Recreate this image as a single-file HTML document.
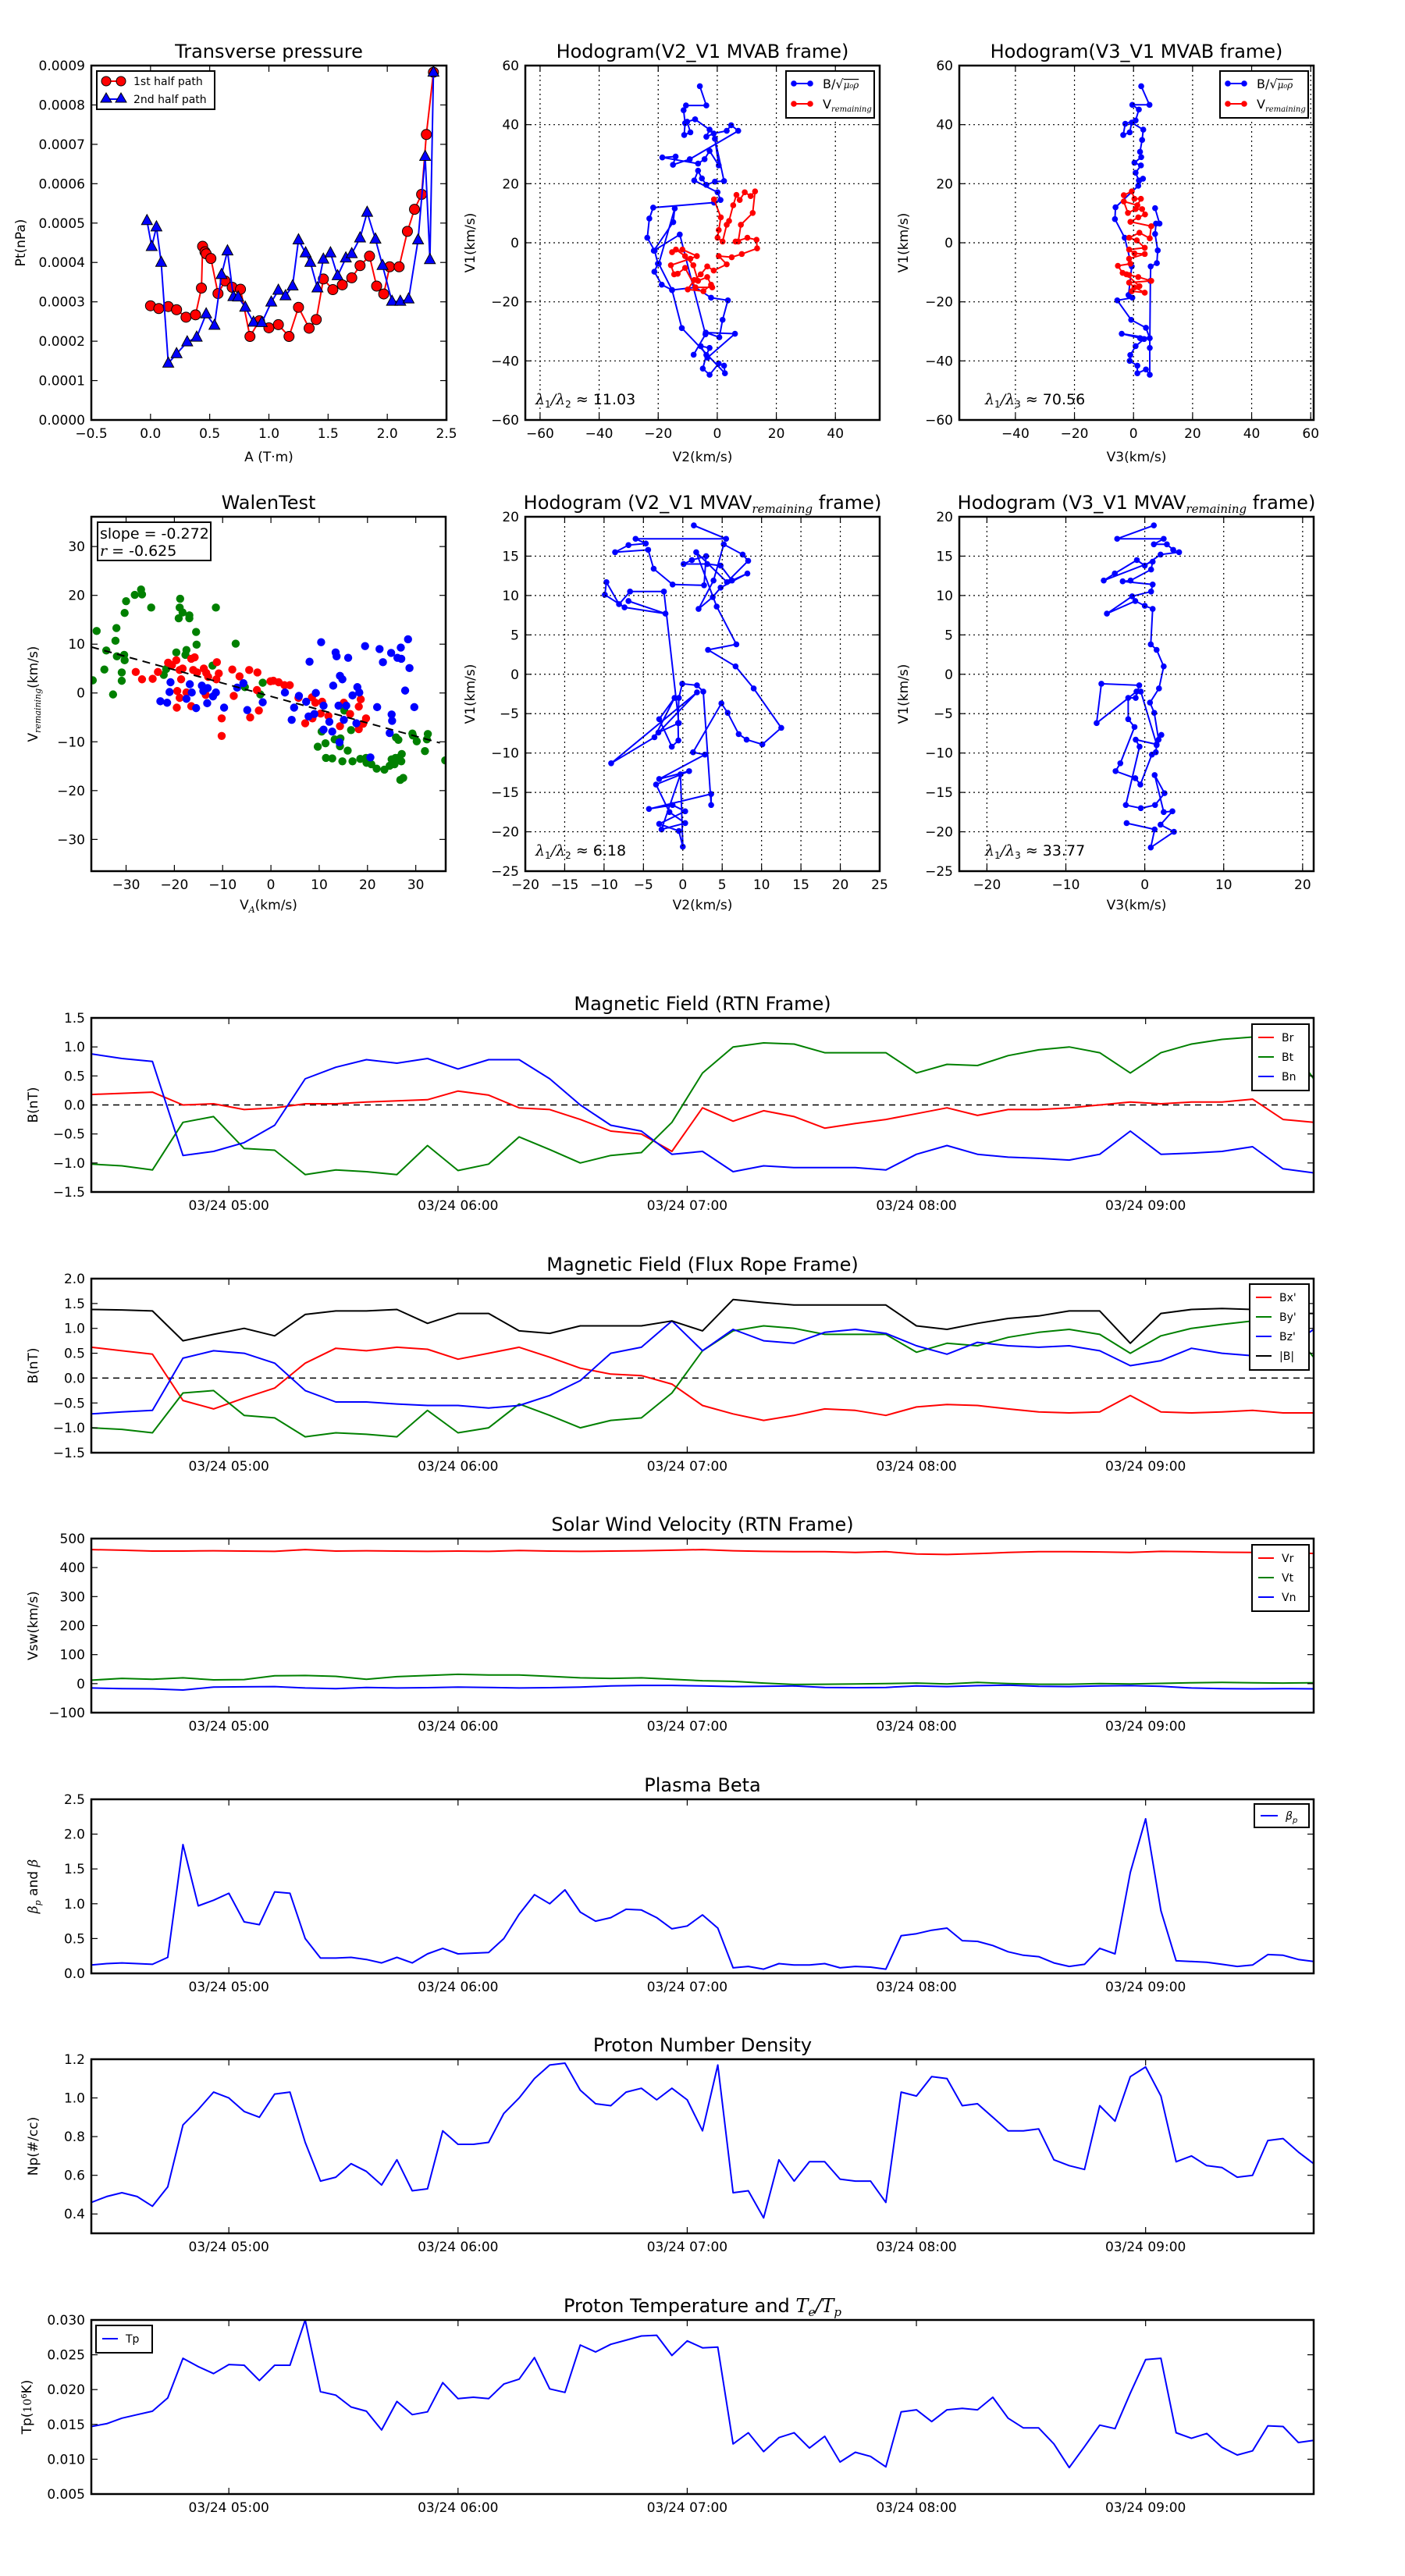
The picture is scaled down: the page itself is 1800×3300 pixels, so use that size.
<!DOCTYPE html>
<html><head><meta charset="utf-8">
<style>
html,body{margin:0;padding:0;background:#fff;}
svg{display:block;font-family:"DejaVu Sans","Liberation Sans",sans-serif;}
</style></head>
<body>
<svg id="fig" xmlns="http://www.w3.org/2000/svg" width="1800" height="3300" viewBox="0 0 1800 3300">
<rect x="0" y="0" width="1800" height="3300" fill="#fff"/>
</svg>
<script>
// ---------- DATA ----------
const ptRedA=[0.0,0.07,0.15,0.22,0.30,0.38,0.43,0.44,0.46,0.47,0.51,0.57,0.63,0.69,0.76,0.84,0.92,1.0,1.08,1.17,1.25,1.34,1.40,1.46,1.54,1.62,1.70,1.77,1.85,1.91,1.97,2.02,2.10,2.17,2.23,2.29,2.33,2.39];
const ptRedP=[2.90,2.83,2.88,2.80,2.61,2.67,3.35,4.41,4.27,4.22,4.10,3.21,3.53,3.37,3.32,2.12,2.52,2.34,2.42,2.12,2.86,2.33,2.55,3.58,3.31,3.43,3.61,3.92,4.16,3.40,3.20,3.89,3.89,4.79,5.35,5.73,7.25,8.83];
const ptBlueA=[-0.03,0.01,0.05,0.09,0.15,0.22,0.31,0.39,0.47,0.54,0.60,0.65,0.70,0.74,0.80,0.87,0.94,1.02,1.08,1.14,1.20,1.25,1.31,1.35,1.41,1.46,1.52,1.58,1.65,1.70,1.77,1.83,1.90,1.96,2.04,2.11,2.18,2.26,2.32,2.36,2.39];
const ptBlueP=[5.06,4.40,4.90,4.00,1.44,1.68,1.98,2.10,2.69,2.40,3.69,4.29,3.13,3.12,2.86,2.48,2.47,2.99,3.29,3.15,3.40,4.57,4.24,4.00,3.35,4.08,4.24,3.66,4.11,4.22,4.62,5.27,4.59,3.92,3.01,3.01,3.07,4.57,6.69,4.07,8.83];
const ptXTicks=[-0.5,0.0,0.5,1.0,1.5,2.0,2.5];
const ptYTicks=[0,1,2,3,4,5,6,7,8,9];

const hodo1B=[[-5.9,53],[-3.7,46.5],[-10.6,46.5],[-11.4,44.9],[-10.9,40.5],[-11.2,36.5],[-9.1,37.4],[-10.2,41],[-7.5,41.8],[-2.6,38.3],[-3.7,35.9],[-1.2,37],[3.2,37.9],[4.7,39.8],[7.1,37.9],[-9.3,28.3],[-15,26.4],[-14.1,29.2],[-18.6,28.9],[-6.5,26.8],[-4.3,28.3],[-2.6,31.1],[0.5,26.2],[-0.8,35.2],[2.3,20.9],[-0.8,20.7],[-3.7,19.6],[-5.2,21.8],[-6.5,24.4],[-7.8,21.1],[0.1,17.1],[1.1,14.5],[-1.1,13.6],[-21.7,11.9],[-23,8.2],[-23.7,1.7],[-21.2,-2.7],[-20.1,-7.1],[-21.3,-9.8],[-18.8,-14.2],[-15.3,-16],[-7.4,-15.1],[-2.1,-18.6],[3.6,-19.5],[1.8,-26.1],[0.7,-32],[-3.9,-30.4],[6,-30.8],[-3.3,-38.9],[-5.6,-35],[-2.6,-35.6],[-3.7,-38],[-4.9,-42.6],[-2.6,-44.7],[0.5,-40.9],[2.3,-41.6],[2.6,-44.2],[-12,-28.9],[-15.3,-16],[-19.8,-7.1],[-14.4,11.6],[-14.9,7],[-21.5,-2.7],[-12.7,2.8],[-4,-31],[-8,-37.9]];
const hodo1V=[[-1.1,14.7],[1.2,8.6],[0.5,4.3],[0.1,1.7],[1.8,0.4],[3.2,6.1],[4,7.4],[5.4,12.7],[6.5,16.2],[7.6,14.5],[9.3,17.1],[11.3,15.8],[12.8,17.4],[12,10.1],[8,6.1],[7.1,0.4],[6.2,0.4],[10.2,1.7],[13.3,1],[13.5,-1.9],[8.3,-3.8],[4.9,-4.9],[0.5,-4.5],[3.2,-7.3],[-1.2,-9.4],[-3.4,-8],[-5.6,-10.7],[-7.8,-12.6],[-10,-15.8],[-4.7,-16.4],[-2.1,-14.2],[-3.4,-11.6],[-6.5,-12.9],[-8.1,-7.6],[-10.9,-4.5],[-14,-2.3],[-15.3,-3.2],[-11.8,-2.3],[-6.9,-4.5],[-9.1,-5.4],[-15.7,-7.6],[-14.6,-10.7],[-13.4,-10.5],[-10.9,-8.5],[-7.4,-15.1],[-1.7,-15.1]];
const hodo2B=[[2.6,53],[5.4,46.7],[-0.4,46.7],[1.8,45.1],[0.7,41.4],[-2.8,40.3],[-3.5,36.5],[-1.3,37.4],[-0.6,40.7],[3.3,38.3],[2.9,34.8],[2.2,30.8],[2.6,29],[0.3,27.1],[2.5,26.2],[0.7,23.7],[1.8,21.1],[3.2,21.7],[1.6,19.3],[-6.1,12],[-6.3,8],[-3,1.7],[-0.6,-8],[-1.7,-17.7],[-0.4,-18.6],[-5.5,-19.5],[-0.8,-26.1],[4.2,-28.8],[5.5,-32.3],[-4,-30.8],[2.2,-32.3],[3.6,-32.6],[0.7,-35],[-1.1,-38],[-1.3,-40],[1.3,-41.6],[1.3,-44.2],[4.2,-42.9],[5.5,-44.7],[5.5,-35.6],[5.7,-12.9],[5.8,-8],[7.9,-6.9],[8.2,-2.6],[7.3,3],[7.6,6.5],[8.8,6.5],[7.3,11.7]];
const hodo2V=[[-3.3,16.1],[-0.6,17.4],[0.3,14.9],[2.5,14.9],[1.3,12.7],[-3.3,14],[-1.9,10.1],[0.7,11.4],[2.9,11.4],[3.9,9.6],[1.6,8.6],[-1.06,7.1],[6,5.6],[5.5,1.5],[2,3.4],[-1.5,1.7],[1.1,0.8],[3.8,-1.7],[-1.5,-2.3],[0.3,-3.6],[3.8,-3.8],[-1.5,-5.4],[-1.06,-7.1],[-5.3,-7.8],[-3.7,-10.2],[-1.5,-10.9],[1.6,-11.6],[6,-12.9],[-1.5,-13.5],[0.3,-15.1],[3.8,-16.9],[-0.6,-16.4],[2,-14.7],[-2.4,-10.7]];
const hodo3B=[[1.4,18.9],[5.5,17.2],[-6,17.2],[-4.7,16.6],[-6.9,16.4],[-8.6,15.5],[-4.4,15.8],[-3.7,13.4],[-1.3,11.4],[2.7,11.3],[2.96,15],[1.15,14.5],[0.1,14],[3.1,14],[4.8,13.8],[6.25,11.9],[8.2,12.8],[4.8,11],[3.8,9.8],[2,8.3],[3.9,11.9],[5.2,16.5],[7.6,15.2],[8.3,14.4],[5.6,11.7],[1.7,15.5],[4.3,8.6],[6.8,3.8],[3.2,3.1],[6.7,1],[9,-1.8],[12.5,-6.8],[10.1,-8.9],[8.1,-8.3],[7.1,-7.6],[5.7,-4.9],[4.9,-3.7],[1.3,-9.9],[2.8,-10.2],[-3,-13.3],[0.8,-12.3],[-3.4,-14],[-1.7,-17.5],[0.3,-18.9],[-2.7,-19.7],[-0.3,-12.7],[0,-21.9],[-0.5,-19.9],[-3,-19],[0.3,-17.4],[-1.3,-16.6],[-4.3,-17.1],[3.6,-15.2],[3.6,-16.6],[2.6,-2.2],[1.8,-1.4],[-0.07,-1.2],[-0.5,-3],[-0.6,-6.2],[-0.56,-8.4],[-1.4,-9.2],[-3,-5.7],[-1.05,-3],[-3.6,-8],[-9.1,-11.3],[1.8,-2.3],[-3.1,-7.4],[-0.5,-6.2],[-2.4,10.5],[-6.7,10.5],[-8.1,8.9],[-9.7,11.7],[-9.9,10.1],[-7.4,8.5],[-2.2,7.7],[-6.9,9.3]];
const hodo4B=[[1.15,18.9],[-3.5,17.2],[2.4,17.2],[1.15,16.5],[2.8,16.5],[3.6,15.8],[4.35,15.5],[2,15.2],[0,13.8],[-1,14.5],[-3.8,12.8],[-5.2,11.9],[1,14.3],[0.8,13.3],[-1.8,11.9],[-2.8,11.8],[1,11.4],[0.8,10.5],[-1.6,9.9],[-4.8,7.7],[-1.2,9.3],[0,8.7],[1,8.3],[0.76,3.8],[1.5,3.1],[2.4,1],[1.8,-1.8],[0.66,-3.6],[1.2,-4.9],[1.75,-8.3],[2.1,-7.7],[1.5,-9],[1.4,-9.9],[0.9,-10.2],[-0.56,-14],[-1.2,-13.2],[-3.7,-12.3],[-3.1,-11.3],[-1.3,-6.7],[-2.1,-5.7],[-2.1,-3],[-1.15,-3],[-0.7,-1.4],[-5.5,-1.2],[-6.1,-6.2],[-1.05,-2.2],[-0.5,-2.2],[1.5,-8.9],[-1.15,-8.3],[-0.66,-9.2],[-2.4,-16.6],[-0.5,-17],[1.3,-16.6],[2.5,-15.1],[1.25,-12.8],[2.4,-17.5],[3.5,-17.4],[2,-19.1],[3.7,-20],[0.76,-22],[1.25,-19.7],[-2.3,-18.9]];

const walenGreen=[[-36.9,2.6],[-36.1,12.7],[-34.1,8.7],[-34.5,4.8],[-32.7,-0.3],[-32.2,10.7],[-32,13.3],[-31.9,7.5],[-30.4,7.8],[-30.3,6.7],[-30.3,16.4],[-30,18.8],[-30.9,4.2],[-30.9,2.5],[-28.2,20.1],[-26.9,21.2],[-26.7,20.2],[-24.8,17.5],[-22.2,3.7],[-21.7,4.9],[-19.6,8.3],[-18.8,19.3],[-18.9,17.5],[-18.3,16.5],[-19.1,15.3],[-16.9,15.9],[-16.9,15.3],[-17.5,8.8],[-17.7,7.8],[-15.5,12.5],[-15.4,9.9],[-11.4,17.5],[-12.1,5.6],[-7.3,10.1],[-5.4,1.2],[-1.7,2.1],[-2.2,-0.3],[10.5,-7.9],[9.7,-11],[11.3,-10.3],[11.4,-13.3],[12.7,-13.4],[13.2,-9.5],[14.4,-9.3],[14.3,-10.9],[14.8,-14],[15.9,-11.8],[16.6,-7.6],[16.9,-14],[15.2,-3.6],[18.5,-13.5],[19.7,-13.3],[19.8,-14.3],[20.8,-14.6],[21.9,-15.5],[23.5,-15.7],[24.6,-14.9],[25,-13.6],[25.8,-13.3],[25.6,-14.6],[26.6,-13.2],[27.1,-12.5],[27,-14],[26.8,-17.8],[27.4,-17.4],[25.9,-9.1],[26.4,-9.6],[29.3,-8.3],[29.4,-8.7],[30.2,-9.9],[32.3,-9.5],[32.5,-8.4],[31.9,-11.9],[36.1,-13.8]];
const walenRed=[[-28,4.3],[-26.7,2.8],[-24.5,2.9],[-23.4,4.3],[-21.3,6.2],[-19.6,6.7],[-18.9,4.7],[-18.6,2.8],[-20.5,5.7],[-18.3,5],[-19.4,0.4],[-18.9,-1],[-19.5,-3],[-16.5,7],[-15.8,7.3],[-16.1,4.7],[-15.3,4.2],[-13.9,5],[-13.4,4.1],[-13,3.3],[-11.3,2.8],[-11.2,6.3],[-10.8,4],[-17.5,0.1],[-16.5,-2.7],[-13.5,-0.4],[-10.2,-5.2],[-10.2,-8.8],[-8,4.8],[-7.7,-0.6],[-6.5,3.4],[-4.5,4.7],[-2.8,4.2],[-4.3,-5],[-2.5,-3.6],[-2.9,0.6],[-0.1,2.4],[0.5,2.5],[1.6,2.2],[2.8,1.6],[3.9,1.6],[5.7,-1],[7.1,-6.2],[8.5,-0.9],[8.6,-5.2],[9.2,-2],[10.3,-4.2],[10.6,-1.8],[11.9,-4.7],[14.3,-6.8],[15.1,-2],[16.4,-4.3],[18.2,-2.8],[18.2,-7.4],[18.6,-1.3],[19.1,-6.3],[19.7,-5.2]];
const walenBlue=[[-22.9,-1.7],[-21.5,-2],[-21,0.2],[-20.8,2.2],[-16.8,1.8],[-17.5,-1.2],[-16.4,0.1],[-15.5,-3.1],[-14.3,1.5],[-14,0.4],[-13.2,-2.1],[-13.1,1],[-12,-0.7],[-11.4,0.1],[-9.7,-3],[-7,1.1],[-5.7,2],[-4.9,-3.5],[-1.7,-1.9],[2.9,0.1],[4.3,-5.5],[4.8,-3],[5.8,-0.6],[7.3,-1.8],[8,6.4],[7.8,-4.8],[9.3,0],[9,-4.3],[10.4,10.4],[10.9,-7.5],[10.9,-2.6],[12.1,-5.9],[12.7,-7.9],[12.9,1.5],[13.4,8.3],[13.6,7.5],[14.3,3.5],[14.2,-10.1],[14.8,2.8],[14,-2.6],[16,7.2],[15.6,-2.6],[15.1,-5.5],[16.9,-0.5],[17.7,-6.2],[17.9,1.2],[18.3,0.1],[19.5,9.6],[20.6,-13.2],[22,-2.9],[22.5,9],[23.2,6.3],[24.9,8.2],[24.6,-8.2],[25,-4.4],[25.1,-5.7],[26.2,7.2],[26.9,9.3],[27,7],[27.8,0.5],[28.4,11],[28.7,5.1],[29.7,-2.9]];
const walenSlope=-0.272;
const walenIntercept=-0.7;

// 8-minute series (minutes after 04:24)
const t8=[0,8,16,24,32,40,48,56,64,72,80,88,96,104,112,120,128,136,144,152,160,168,176,184,192,200,208,216,224,232,240,248,256,264,272,280,288,296,304,312,320];
const br=[0.18,0.2,0.22,0.0,0.02,-0.08,-0.05,0.02,0.02,0.05,0.07,0.09,0.24,0.17,-0.05,-0.08,-0.25,-0.45,-0.5,-0.8,-0.05,-0.28,-0.1,-0.2,-0.4,-0.32,-0.25,-0.15,-0.05,-0.18,-0.08,-0.08,-0.05,0.0,0.05,0.02,0.05,0.05,0.1,-0.25,-0.3];
const bt=[-1.02,-1.05,-1.12,-0.3,-0.2,-0.75,-0.78,-1.2,-1.12,-1.15,-1.2,-0.7,-1.13,-1.02,-0.55,-0.77,-1.0,-0.87,-0.82,-0.3,0.55,1.0,1.07,1.05,0.9,0.9,0.9,0.55,0.7,0.68,0.85,0.95,1.0,0.9,0.55,0.9,1.05,1.13,1.17,1.18,0.45];
const bn=[0.88,0.8,0.75,-0.87,-0.8,-0.65,-0.35,0.45,0.65,0.78,0.72,0.8,0.62,0.78,0.78,0.45,0.0,-0.35,-0.45,-0.85,-0.8,-1.15,-1.05,-1.08,-1.08,-1.08,-1.12,-0.85,-0.7,-0.85,-0.9,-0.92,-0.95,-0.85,-0.45,-0.85,-0.83,-0.8,-0.72,-1.1,-1.17];
const bxp=[0.62,0.55,0.48,-0.45,-0.62,-0.4,-0.2,0.3,0.6,0.55,0.62,0.58,0.38,0.5,0.62,0.42,0.2,0.08,0.05,-0.12,-0.55,-0.72,-0.85,-0.75,-0.62,-0.65,-0.75,-0.58,-0.53,-0.55,-0.62,-0.68,-0.7,-0.68,-0.35,-0.68,-0.7,-0.68,-0.65,-0.7,-0.7];
const byp=[-1.0,-1.03,-1.1,-0.3,-0.25,-0.75,-0.8,-1.18,-1.1,-1.13,-1.18,-0.65,-1.1,-1.0,-0.52,-0.75,-1.0,-0.85,-0.8,-0.3,0.55,0.95,1.05,1.0,0.88,0.88,0.88,0.52,0.7,0.65,0.82,0.92,0.98,0.88,0.5,0.85,1.0,1.08,1.15,1.15,0.42];
const bzp=[-0.72,-0.68,-0.65,0.4,0.55,0.5,0.3,-0.25,-0.48,-0.48,-0.52,-0.55,-0.55,-0.6,-0.55,-0.35,-0.05,0.5,0.62,1.15,0.55,0.98,0.75,0.7,0.92,0.98,0.9,0.65,0.48,0.72,0.65,0.62,0.65,0.55,0.25,0.35,0.6,0.5,0.45,0.55,0.98];
const bmag=[1.38,1.37,1.35,0.75,0.88,1.0,0.85,1.28,1.35,1.35,1.38,1.1,1.3,1.3,0.95,0.9,1.05,1.05,1.05,1.15,0.95,1.58,1.52,1.47,1.47,1.47,1.47,1.05,0.98,1.1,1.2,1.25,1.35,1.35,0.7,1.3,1.38,1.4,1.38,1.3,1.3];
const vr=[462,460,457,457,458,457,456,462,457,458,457,456,457,456,459,457,456,457,458,460,462,458,456,455,455,452,455,447,445,448,452,455,455,454,452,456,455,453,452,450,449];
const vt=[12,18,15,20,13,14,27,28,25,15,24,28,32,30,30,25,20,18,20,15,10,8,2,-3,-2,-1,0,2,-1,4,0,-2,-2,0,-1,1,3,4,3,2,3];
const vn=[-15,-17,-18,-22,-12,-11,-10,-15,-17,-13,-15,-14,-12,-13,-15,-14,-12,-8,-6,-6,-8,-10,-9,-8,-13,-14,-13,-8,-10,-7,-5,-9,-10,-8,-7,-9,-15,-17,-18,-17,-18];
// 4-minute series
const t4=Array.from({length:81},(_,i)=>i*4);
const betaP=[0.12,0.14,0.15,0.14,0.13,0.23,1.85,0.97,1.05,1.15,0.74,0.7,1.17,1.15,0.5,0.22,0.22,0.23,0.2,0.15,0.23,0.15,0.28,0.36,0.28,0.29,0.3,0.5,0.85,1.13,1.0,1.2,0.88,0.75,0.8,0.92,0.91,0.8,0.64,0.68,0.84,0.65,0.08,0.1,0.06,0.14,0.12,0.12,0.14,0.08,0.1,0.09,0.06,0.54,0.57,0.62,0.65,0.47,0.46,0.4,0.31,0.26,0.24,0.15,0.1,0.13,0.36,0.28,1.45,2.22,0.9,0.18,0.17,0.16,0.13,0.1,0.12,0.27,0.26,0.2,0.17];
const np=[0.46,0.49,0.51,0.49,0.44,0.54,0.86,0.94,1.03,1.0,0.93,0.9,1.02,1.03,0.77,0.57,0.59,0.66,0.62,0.55,0.68,0.52,0.53,0.83,0.76,0.76,0.77,0.92,1.0,1.1,1.17,1.18,1.04,0.97,0.96,1.03,1.05,0.99,1.05,0.99,0.83,1.17,0.51,0.52,0.38,0.68,0.57,0.67,0.67,0.58,0.57,0.57,0.46,1.03,1.01,1.11,1.1,0.96,0.97,0.9,0.83,0.83,0.84,0.68,0.65,0.63,0.96,0.88,1.11,1.16,1.01,0.67,0.7,0.65,0.64,0.59,0.6,0.78,0.79,0.72,0.66];
const tp=[0.0147,0.0151,0.0159,0.0164,0.0169,0.0188,0.0245,0.0233,0.0223,0.0236,0.0235,0.0213,0.0235,0.0235,0.030,0.0197,0.0192,0.0175,0.0169,0.0142,0.0183,0.0164,0.0168,0.021,0.0187,0.0189,0.0187,0.0208,0.0215,0.0246,0.0201,0.0196,0.0264,0.0254,0.0265,0.0271,0.0277,0.0278,0.0249,0.027,0.026,0.0261,0.0122,0.0138,0.0111,0.0131,0.0138,0.0116,0.0133,0.0096,0.011,0.0104,0.0089,0.0168,0.0171,0.0154,0.0171,0.0173,0.0171,0.0189,0.0159,0.0145,0.0145,0.0122,0.0088,0.0118,0.0149,0.0144,0.0195,0.0243,0.0245,0.0138,0.013,0.0137,0.0117,0.0106,0.0112,0.0148,0.0147,0.0124,0.0127];
const hourTicks=[36,96,156,216,276];
const hourLabels=["03/24 05:00","03/24 06:00","03/24 07:00","03/24 08:00","03/24 09:00"];

// ---------- HELPERS ----------
const NS="http://www.w3.org/2000/svg";
const svg=document.getElementById('fig');
function mk(tag,attrs,parent){const e=document.createElementNS(NS,tag);for(const k in attrs)e.setAttribute(k,attrs[k]);(parent||svg).appendChild(e);return e;}
function fmtNum(v,d){const s=v.toFixed(d);return s.replace('-','\u2212');}
function txt(x,y,s,size,anchor,parent){const t=mk('text',{x:x,y:y,'font-size':size,'text-anchor':anchor||'middle',fill:'#000'},parent);t.textContent=s;return t;}

function axes(name,x0,y0,w,h,xmin,xmax,ymin,ymax){
  const g=mk('g',{});
  
  
  const sx=v=>x0+(v-xmin)/(xmax-xmin)*w;
  const sy=v=>y0+h-(v-ymin)/(ymax-ymin)*h;
  const clipId='clip-'+name;
  const cp=mk('clipPath',{id:clipId},g);
  mk('rect',{x:x0,y:y0,width:w,height:h},cp);
  const plot=mk('g',{'clip-path':'url(#'+clipId+')'},g);
  return {g,plot,sx,sy,x0,y0,w,h};
}
function frame(A){
  const r=mk('rect',{x:A.x0,y:A.y0,width:A.w,height:A.h,fill:'none',stroke:'#000','stroke-width':2.5},A.g);
  
  
}
function xticks(A,vals,labels,grid){
  vals.forEach((v,i)=>{
    const x=A.sx(v);
    if(grid && x>A.x0+2 && x<A.x0+A.w-2){mk('line',{x1:x,y1:A.y0,x2:x,y2:A.y0+A.h,stroke:'#000','stroke-width':1.2,'stroke-dasharray':'2,4'},A.g);}
    mk('line',{x1:x,y1:A.y0+A.h,x2:x,y2:A.y0+A.h-8,stroke:'#000','stroke-width':1.2},A.g);
    mk('line',{x1:x,y1:A.y0,x2:x,y2:A.y0+8,stroke:'#000','stroke-width':1.2},A.g);
    const t=txt(x,A.y0+A.h+23,labels[i],17,'middle',A.g);
    
    
  });
}
function yticks(A,vals,labels,grid){
  vals.forEach((v,i)=>{
    const y=A.sy(v);
    if(grid && y>A.y0+2 && y<A.y0+A.h-2){mk('line',{x1:A.x0,y1:y,x2:A.x0+A.w,y2:y,stroke:'#000','stroke-width':1.2,'stroke-dasharray':'2,4'},A.g);}
    mk('line',{x1:A.x0,y1:y,x2:A.x0+8,y2:y,stroke:'#000','stroke-width':1.2},A.g);
    mk('line',{x1:A.x0+A.w,y1:y,x2:A.x0+A.w-8,y2:y,stroke:'#000','stroke-width':1.2},A.g);
    const t=txt(A.x0-8,y+6,labels[i],17,'end',A.g);
    
    
  });
}
function title(A,s){const t=txt(A.x0+A.w/2,A.y0-10,s,24,'middle',A.g);return t;}
function ylabel(A,x,s){const cy=A.y0+A.h/2;const t=txt(x,cy,s,17,'middle',A.g);t.setAttribute('transform','rotate(-90 '+x+' '+cy+')');return t;}
function xlabel(A,y,s){const t=txt(A.x0+A.w/2,y,s,17,'middle',A.g);return t;}
function sub(t,s,size,dy){const ts=mk('tspan',{'font-size':size,'font-style':'italic','font-family':'"DejaVu Serif","Liberation Serif",serif',dy:dy},t);ts.textContent=s;const back=mk('tspan',{dy:-dy},t);back.textContent='';return ts;}
function lineSeries(A,xs,ys,color,name,width){
  const pts=xs.map((x,i)=>A.sx(x).toFixed(1)+','+A.sy(ys[i]).toFixed(1)).join(' ');
  const p=mk('polyline',{points:pts,fill:'none',stroke:color,'stroke-width':width||2,'stroke-linejoin':'round'},A.plot);
  
  
  return p;
}
function pathSeries(A,pairs,color,name){
  const pts=pairs.map(p=>A.sx(p[0]).toFixed(1)+','+A.sy(p[1]).toFixed(1)).join(' ');
  const pl=mk('polyline',{points:pts,fill:'none',stroke:color,'stroke-width':2},A.plot);
  
  
  pairs.forEach(p=>{
    const c=mk('circle',{cx:A.sx(p[0]),cy:A.sy(p[1]),r:3.8,fill:color},A.plot);
    
    
  });
}
function hodoLegend(x,y){
  const g=mk('g',{});
  
  
  mk('rect',{x:x,y:y,width:113,height:60,fill:'#fff',stroke:'#000','stroke-width':2},g);
  [['#00f',16],['#f00',42]].forEach((e,i)=>{
    mk('line',{x1:x+8,y1:y+e[1],x2:x+33,y2:y+e[1],stroke:e[0],'stroke-width':2},g);
    mk('circle',{cx:x+10,cy:y+e[1],r:3.8,fill:e[0]},g);
    mk('circle',{cx:x+31,cy:y+e[1],r:3.8,fill:e[0]},g);
  });
  const t1=txt(x+47,y+22,'B/\u221A',16,'start',g);
  
  const s1=mk('tspan',{'font-style':'italic','font-family':'"DejaVu Serif",serif','font-size':12,'text-decoration':'overline'},t1);s1.textContent='\u03BC\u2080\u03C1';
  const t2=txt(x+47,y+48,'V',16,'start',g);
  
  const s2=mk('tspan',{'font-style':'italic','font-family':'"DejaVu Serif",serif','font-size':10,dy:4},t2);s2.textContent='remaining';
}
function lambdaText(x,y,a,b,val){
  const t=txt(x,y,'',19,'start');
  
  
  const s=mk('tspan',{'font-style':'italic','font-family':'"DejaVu Serif",serif'},t);s.textContent='\u03BB';
  const s2=mk('tspan',{'font-size':12,dy:4},t);s2.textContent=a;
  const s3=mk('tspan',{dy:-4,'font-style':'italic','font-family':'"DejaVu Serif",serif'},t);s3.textContent='/\u03BB';
  const s4=mk('tspan',{'font-size':12,dy:4},t);s4.textContent=b;
  const s5=mk('tspan',{dy:-4},t);s5.textContent=' \u2248 '+val;
}

// ---------- PANEL: TRANSVERSE PRESSURE ----------
(function(){
  const A=axes('transverse-pressure-chart',117,84,455,454,-0.5,2.5,0,9);
  xticks(A,ptXTicks,ptXTicks.map(v=>fmtNum(v,1)),false);
  yticks(A,ptYTicks,ptYTicks.map(v=>(v/10000).toFixed(4)),false);
  lineSeries(A,ptRedA,ptRedP,'#f00','first-half-line',2);
  ptRedA.forEach((a,i)=>{const c=mk('circle',{cx:A.sx(a),cy:A.sy(ptRedP[i]),r:6.5,fill:'#f00',stroke:'#000','stroke-width':1},A.plot);});
  lineSeries(A,ptBlueA,ptBlueP,'#00f','second-half-line',2);
  ptBlueA.forEach((a,i)=>{const x=A.sx(a),y=A.sy(ptBlueP[i]);const p=mk('polygon',{points:(x)+','+(y-8)+' '+(x-7)+','+(y+5)+' '+(x+7)+','+(y+5),fill:'#00f',stroke:'#000','stroke-width':1},A.plot);});
  frame(A);
  title(A,'Transverse pressure');
  ylabel(A,32,'Pt(nPa)');
  xlabel(A,591,'A (T\u00B7m)');
  const lg=mk('g',{},A.g);
  
  
  mk('rect',{x:124,y:91,width:151,height:49,fill:'#fff',stroke:'#000','stroke-width':2},lg);
  mk('line',{x1:136,y1:104,x2:155,y2:104,stroke:'#f00','stroke-width':2},lg);
  mk('circle',{cx:136,cy:104,r:6,fill:'#f00',stroke:'#000'},lg);mk('circle',{cx:155,cy:104,r:6,fill:'#f00',stroke:'#000'},lg);
  mk('line',{x1:136,y1:127,x2:155,y2:127,stroke:'#00f','stroke-width':2},lg);
  mk('polygon',{points:'136,119 129,131 143,131',fill:'#00f',stroke:'#000'},lg);mk('polygon',{points:'155,119 148,131 162,131',fill:'#00f',stroke:'#000'},lg);
  const l1=txt(171,109,'1st half path',14,'start',lg);
  const l2=txt(171,132,'2nd half path',14,'start',lg);
})();

// ---------- HODOGRAM 1 ----------
(function(){
  const A=axes('hodogram-v2-v1-mvab',673,84,454,454,-65,55,-60,60);
  const xt=[-60,-40,-20,0,20,40],yt=[-60,-40,-20,0,20,40,60];
  xticks(A,xt,xt.map(v=>fmtNum(v,0)),true);
  yticks(A,yt,yt.map(v=>fmtNum(v,0)),true);
  pathSeries(A,hodo1B,'#00f','b-alfven');
  pathSeries(A,hodo1V,'#f00','v-remaining');
  frame(A);
  title(A,'Hodogram(V2_V1 MVAB frame)');
  ylabel(A,608,'V1(km/s)');
  xlabel(A,591,'V2(km/s)');
  hodoLegend(1007,91);
  lambdaText(686,518,'1','2','11.03');
})();
// ---------- HODOGRAM 2 ----------
(function(){
  const A=axes('hodogram-v3-v1-mvab',1229,84,454,454,-59,61,-60,60);
  const xt=[-40,-20,0,20,40,60],yt=[-60,-40,-20,0,20,40,60];
  xticks(A,xt,xt.map(v=>fmtNum(v,0)),true);
  yticks(A,yt,yt.map(v=>fmtNum(v,0)),true);
  pathSeries(A,hodo2B,'#00f','b-alfven');
  pathSeries(A,hodo2V,'#f00','v-remaining');
  frame(A);
  title(A,'Hodogram(V3_V1 MVAB frame)');
  ylabel(A,1163,'V1(km/s)');
  xlabel(A,591,'V3(km/s)');
  hodoLegend(1563,91);
  lambdaText(1262,518,'1','3','70.56');
})();
// ---------- WALEN ----------
(function(){
  const A=axes('walen-test-chart',117,662,454,454,-37.2,36.2,-36.5,36.1);
  const xt=[-30,-20,-10,0,10,20,30],yt=[-30,-20,-10,0,10,20,30];
  xticks(A,xt,xt.map(v=>fmtNum(v,0)),false);
  yticks(A,yt,yt.map(v=>fmtNum(v,0)),false);
  [[walenGreen,'#008000','walen-green-point'],[walenRed,'#f00','walen-red-point'],[walenBlue,'#00f','walen-blue-point']].forEach(s=>{
    s[0].forEach(p=>{const c=mk('circle',{cx:A.sx(p[0]),cy:A.sy(p[1]),r:5.2,fill:s[1]},A.plot);});
  });
  const fl=mk('line',{x1:A.sx(-37.2),y1:A.sy(walenSlope*-37.2+walenIntercept),x2:A.sx(35),y2:A.sy(walenSlope*35+walenIntercept),stroke:'#000','stroke-width':2,'stroke-dasharray':'10,7'},A.plot);
  
  
  frame(A);
  title(A,'WalenTest');
  const yl=ylabel(A,48,'V');
  const ss=mk('tspan',{'font-size':11,'font-style':'italic','font-family':'"DejaVu Serif",serif',dy:4},yl);ss.textContent='remaining';
  const ss2=mk('tspan',{dy:-4},yl);ss2.textContent='(km/s)';
  const xl=xlabel(A,1165,'V');
  const xs=mk('tspan',{'font-size':11,'font-style':'italic','font-family':'"DejaVu Serif",serif',dy:4},xl);xs.textContent='A';
  const xs2=mk('tspan',{dy:-4},xl);xs2.textContent='(km/s)';
  const bx=mk('g',{},A.g);
  
  
  mk('rect',{x:125,y:669,width:145,height:49,fill:'#fff',stroke:'#000','stroke-width':2},bx);
  txt(128,690,'slope = -0.272',19,'start',bx);
  const r=txt(128,712,'',19,'start',bx);
  const ri=mk('tspan',{'font-style':'italic','font-family':'"DejaVu Serif",serif'},r);ri.textContent='r';
  const rv=mk('tspan',{},r);rv.textContent=' = -0.625';
})();
// ---------- HODOGRAM 3 ----------
(function(){
  const A=axes('hodogram-v2-v1-mvav',673,662,454,454,-20,25,-25,20);
  const xt=[-20,-15,-10,-5,0,5,10,15,20,25],yt=[-25,-20,-15,-10,-5,0,5,10,15,20];
  xticks(A,xt,xt.map(v=>fmtNum(v,0)),true);
  yticks(A,yt,yt.map(v=>fmtNum(v,0)),true);
  pathSeries(A,hodo3B,'#00f','b-alfven');
  frame(A);
  const t=title(A,'Hodogram (V2_V1 MVAV');
  const s=mk('tspan',{'font-size':15,'font-style':'italic','font-family':'"DejaVu Serif",serif',dy:5},t);s.textContent='remaining';
  const s2=mk('tspan',{dy:-5},t);s2.textContent=' frame)';
  ylabel(A,608,'V1(km/s)');
  xlabel(A,1165,'V2(km/s)');
  lambdaText(686,1096,'1','2','6.18');
})();
// ---------- HODOGRAM 4 ----------
(function(){
  const A=axes('hodogram-v3-v1-mvav',1229,662,454,454,-23.5,21.4,-25,20);
  const xt=[-20,-10,0,10,20],yt=[-25,-20,-15,-10,-5,0,5,10,15,20];
  xticks(A,xt,xt.map(v=>fmtNum(v,0)),true);
  yticks(A,yt,yt.map(v=>fmtNum(v,0)),true);
  pathSeries(A,hodo4B,'#00f','b-alfven');
  frame(A);
  const t=title(A,'Hodogram (V3_V1 MVAV');
  const s=mk('tspan',{'font-size':15,'font-style':'italic','font-family':'"DejaVu Serif",serif',dy:5},t);s.textContent='remaining';
  const s2=mk('tspan',{dy:-5},t);s2.textContent=' frame)';
  ylabel(A,1163,'V1(km/s)');
  xlabel(A,1165,'V3(km/s)');
  lambdaText(1262,1096,'1','3','33.77');
})();

// ---------- TIME SERIES ----------
function timePanel(name,top,ymin,ymax,yt,dec){
  const A=axes(name,117,top,1566,223,0,320,ymin,ymax);
  xticks(A,hourTicks,hourLabels,false);
  yticks(A,yt,yt.map(v=>fmtNum(v,dec)),false);
  return A;
}
function tsLegend(A,x,y,entries,w){
  const g=mk('g',{},A.g);
  
  
  mk('rect',{x:x,y:y,width:w,height:entries.length*25+10,fill:'#fff',stroke:'#000','stroke-width':2},g);
  entries.forEach((e,i)=>{
    const yy=y+17+i*25;
    mk('line',{x1:x+8,y1:yy,x2:x+28,y2:yy,stroke:e[1],'stroke-width':2},g);
    const t=txt(x+38,yy+5,e[0],14,'start',g);
    
  });
}
function zeroLine(A){const l=mk('line',{x1:A.x0,y1:A.sy(0),x2:A.x0+A.w,y2:A.sy(0),stroke:'#000','stroke-width':1.5,'stroke-dasharray':'8,6'},A.plot);}

(function(){
  const A=timePanel('magnetic-field-rtn-chart',1304,-1.5,1.5,[-1.5,-1,-0.5,0,0.5,1,1.5],1);
  zeroLine(A);
  lineSeries(A,t8,br,'#f00','br-line');
  lineSeries(A,t8,bt,'#008000','bt-line');
  lineSeries(A,t8,bn,'#00f','bn-line');
  frame(A);title(A,'Magnetic Field (RTN Frame)');ylabel(A,48,'B(nT)');
  tsLegend(A,1604,1312,[['Br','#f00'],['Bt','#008000'],['Bn','#00f']],73);
})();
(function(){
  const A=timePanel('magnetic-field-flux-rope-chart',1638,-1.5,2.0,[-1.5,-1,-0.5,0,0.5,1,1.5,2],1);
  zeroLine(A);
  lineSeries(A,t8,bxp,'#f00','bx-line');
  lineSeries(A,t8,byp,'#008000','by-line');
  lineSeries(A,t8,bzp,'#00f','bz-line');
  lineSeries(A,t8,bmag,'#000','bmag-line');
  frame(A);title(A,'Magnetic Field (Flux Rope Frame)');ylabel(A,48,'B(nT)');
  tsLegend(A,1601,1645,[["Bx'",'#f00'],["By'",'#008000'],["Bz'",'#00f'],['|B|','#000']],76);
})();
(function(){
  const A=timePanel('solar-wind-velocity-chart',1971,-100,500,[-100,0,100,200,300,400,500],0);
  lineSeries(A,t8,vr,'#f00','vr-line');
  lineSeries(A,t8,vt,'#008000','vt-line');
  lineSeries(A,t8,vn,'#00f','vn-line');
  frame(A);title(A,'Solar Wind Velocity (RTN Frame)');ylabel(A,48,'Vsw(km/s)');
  tsLegend(A,1604,1979,[['Vr','#f00'],['Vt','#008000'],['Vn','#00f']],73);
})();
(function(){
  const A=timePanel('plasma-beta-chart',2305,0,2.5,[0,0.5,1,1.5,2,2.5],1);
  lineSeries(A,t4,betaP,'#00f','beta-line');
  frame(A);title(A,'Plasma Beta');
  const yl=ylabel(A,48,'');
  const a=mk('tspan',{'font-style':'italic','font-family':'"DejaVu Serif",serif'},yl);a.textContent='\u03B2';
  const b=mk('tspan',{'font-size':11,'font-style':'italic','font-family':'"DejaVu Serif",serif',dy:4},yl);b.textContent='p';
  const c=mk('tspan',{dy:-4},yl);c.textContent=' and ';
  const d=mk('tspan',{'font-style':'italic','font-family':'"DejaVu Serif",serif'},yl);d.textContent='\u03B2';
  const g=mk('g',{},A.g);
  
  
  mk('rect',{x:1607,y:2311,width:70,height:30,fill:'#fff',stroke:'#000','stroke-width':2},g);
  mk('line',{x1:1615,y1:2326,x2:1637,y2:2326,stroke:'#00f','stroke-width':2},g);
  const t=txt(1647,2331,'\u03B2',14,'start',g);t.setAttribute('font-style','italic');
  const ts=mk('tspan',{'font-size':10,dy:4},t);ts.textContent='p';
})();
(function(){
  const A=timePanel('proton-density-chart',2638,0.3,1.2,[0.4,0.6,0.8,1.0,1.2],1);
  lineSeries(A,t4,np,'#00f','density-line');
  frame(A);title(A,'Proton Number Density');ylabel(A,48,'Np(#/cc)');
})();
(function(){
  const A=timePanel('proton-temperature-chart',2972,0.005,0.030,[0.005,0.010,0.015,0.020,0.025,0.030],3);
  lineSeries(A,t4,tp,'#00f','temperature-line');
  frame(A);
  const t=title(A,'Proton Temperature and ');
  const a=mk('tspan',{'font-style':'italic','font-family':'"DejaVu Serif",serif'},t);a.textContent='T';
  const b=mk('tspan',{'font-size':15,'font-style':'italic','font-family':'"DejaVu Serif",serif',dy:5},t);b.textContent='e';
  const c=mk('tspan',{dy:-5,'font-style':'italic','font-family':'"DejaVu Serif",serif'},t);c.textContent='/T';
  const d=mk('tspan',{'font-size':15,'font-style':'italic','font-family':'"DejaVu Serif",serif',dy:5},t);d.textContent='p';
  const yl=ylabel(A,40,'Tp(');
  const e=mk('tspan',{'font-size':14,'font-family':'"DejaVu Serif",serif'},yl);e.textContent='10';
  const f=mk('tspan',{'font-size':10,dy:-6},yl);f.textContent='6';
  const h=mk('tspan',{dy:6},yl);h.textContent='K)';
  tsLegend(A,123,2979,[['Tp','#00f']],72);
})();
</script>
</body></html>
